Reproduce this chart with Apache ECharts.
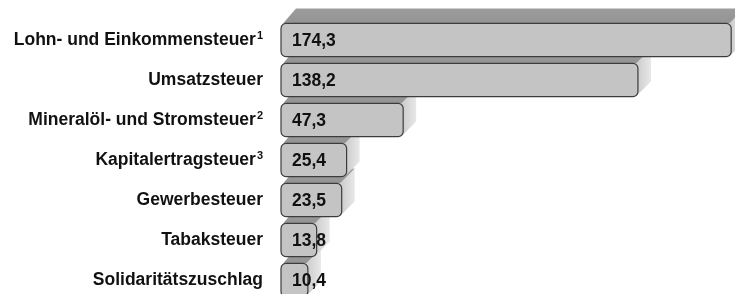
<!DOCTYPE html>
<html>
<head>
<meta charset="utf-8">
<script src="https://cdn.jsdelivr.net/npm/echarts@6/dist/echarts.min.js"></script>
<style>
  html, body { margin: 0; padding: 0; background: #fff; }
  #chart { width: 735px; height: 294px; }
</style>
</head>
<body>
<div id="chart"></div>
<script>
(function() {
    // Steueraufkommen (Mrd.), von oben nach unten
    var categories = [
        'Lohn- und Einkommensteuer',
        'Umsatzsteuer',
        'Mineralöl- und Stromsteuer',
        'Kapitalertragsteuer',
        'Gewerbesteuer',
        'Tabaksteuer',
        'Solidaritätszuschlag'
    ];
    var footnotes = ['1', '', '2', '3', '', '', ''];
    var values = [174.3, 138.2, 47.3, 25.4, 23.5, 13.8, 10.4];

    var myChart = echarts.init(document.getElementById('chart'));

    var n = values.length;
    var seriesData = values.map(function(v, i) { return [v, i]; });
    var fontFam = '"Liberation Sans", Arial, sans-serif';

    // 3D-Balken: Deckfläche, Seitenfläche, Vorderseite, Beschriftung
    function renderItem(params, api) {
        var idx = api.value(1);
        var end = api.coord([api.value(0), idx]);
        var start = api.coord([0, idx]);
        var h = api.size([0, 1])[1] * 0.83;
        var x0 = start[0], x1 = end[0];
        var y0 = end[1] - h / 2, y1 = end[1] + h / 2;
        var dx = 13, dy = 15;
        var z = (n - idx) * 10;
        var txt = values[idx].toFixed(1).replace('.', ',');
        return {
            type: 'group',
            children: [
                {
                    type: 'polygon',
                    z2: z,
                    shape: { points: [[x0 + 2, y0], [x0 + 2 + dx, y0 - dy], [x1 + dx, y0 - dy], [x1, y0]] },
                    style: {
                        fill: new echarts.graphic.LinearGradient(0, 0, 0, 1, [
                            { offset: 0, color: '#9c9c9c' },
                            { offset: 1, color: '#949494' }
                        ])
                    }
                },
                {
                    type: 'polygon',
                    z2: z + 1,
                    shape: { points: [[x1 - 2, y0], [x1 + dx, y0 - dy], [x1 + dx, y1 - dy], [x1 - 2, y1]] },
                    style: {
                        fill: new echarts.graphic.LinearGradient(0, 0, 1, 0, [
                            { offset: 0, color: '#cacaca' },
                            { offset: 1, color: '#e8e8e8' }
                        ])
                    }
                },
                {
                    type: 'rect',
                    z2: z + 2,
                    shape: { x: x0, y: y0, width: x1 - x0, height: h, r: 5 },
                    style: { fill: '#c4c4c4', stroke: '#3c3c3c', lineWidth: 1.2 }
                },
                {
                    type: 'text',
                    z2: z + 3,
                    style: {
                        x: x0 + 11,
                        y: end[1] + 1,
                        text: txt,
                        fill: '#111',
                        font: 'bold 17.5px ' + fontFam,
                        verticalAlign: 'middle',
                        align: 'left'
                    }
                }
            ]
        };
    }

    var option = {
        backgroundColor: '#fff',
        animation: false,
        grid: { left: 281, right: 2, top: 20, height: 280, outerBoundsMode: 'none' },
        xAxis: {
            type: 'value',
            min: 0,
            max: 175,
            show: false
        },
        yAxis: {
            type: 'category',
            data: categories,
            inverse: true,
            axisLine: { show: false },
            axisTick: { show: false },
            splitLine: { show: false },
            axisLabel: {
                margin: 18,
                formatter: function(value, i) {
                    var s = '{n|' + value + '}';
                    if (footnotes[i]) s += '{sup|' + footnotes[i] + '}';
                    return s;
                },
                rich: {
                    n: {
                        color: '#111',
                        fontWeight: 'bold',
                        fontSize: 17.5,
                        fontFamily: fontFam
                    },
                    sup: {
                        color: '#111',
                        fontWeight: 'bold',
                        fontSize: 11,
                        fontFamily: fontFam,
                        padding: [0, 0, 9, 1]
                    }
                }
            }
        },
        series: [{
            type: 'custom',
            renderItem: renderItem,
            encode: { x: 0, y: 1 },
            data: seriesData,
            clip: false
        }]
    };

    myChart.setOption(option);
    window.addEventListener("resize", function() {
        myChart.resize();
    });
})();
</script>
</body>
</html>
